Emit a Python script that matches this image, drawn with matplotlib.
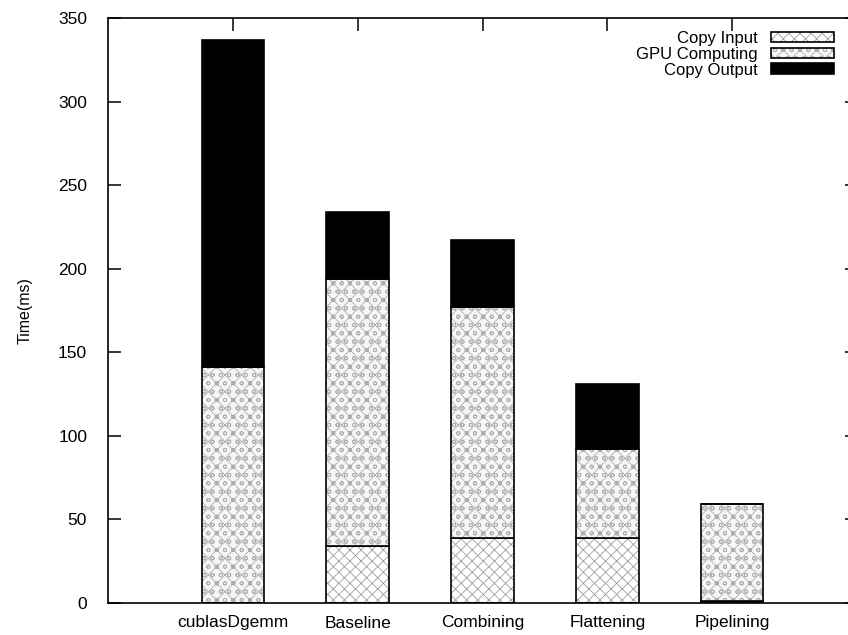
import numpy as np
import matplotlib
matplotlib.use("Agg")
import matplotlib.pyplot as plt

plt.rcParams['font.family'] = ['Liberation Sans', 'DejaVu Sans']
plt.rcParams['hatch.linewidth'] = 0.6

# --- data ---
categories = ['cublasDgemm', 'Baseline', 'Combining', 'Flattening', 'Pipelining']
copy_input = [0, 34, 39, 39, 1]
gpu_computing = [141, 160, 138, 53, 58]
copy_output = [196, 40, 40, 39, 0]

fig = plt.figure(figsize=(8.48, 6.35), dpi=100)
# right edge sits just past the picture (the original is cropped there)
ax = fig.add_axes([108 / 848, 32 / 635, (857 - 108) / 848, (603 - 18) / 635])

x = np.arange(1, len(categories) + 1)
w = 0.5
inp = np.array(copy_input)
gpu = np.array(gpu_computing)
out = np.array(copy_output)

b1 = ax.bar(x, inp, w, color='white', edgecolor='black', linewidth=1.2,
            hatch='xxx', label='Copy Input')
b2 = ax.bar(x, gpu, w, bottom=inp, color='#f6f6f6', edgecolor='black', linewidth=1.2,
            hatch='xxoo', label='GPU Computing')
ax.bar(x, out, w, bottom=inp + gpu, color='black', edgecolor='black', linewidth=1.2,
       label='Copy Output')

# light grey hatching
for p in b1:
    p._hatch_color = (0.62, 0.62, 0.62, 1.0)
for p in b2:
    p._hatch_color = (0.68, 0.68, 0.68, 1.0)

ax.set_xlim(0, 6)
ax.set_ylim(0, 350)
ax.set_yticks(range(0, 351, 50))
ax.set_xticks(x)
ax.set_xticklabels(categories)
ax.tick_params(axis='both', direction='in', length=9, width=1.1, labelsize=12.5,
               top=True, right=True, bottom=False)
ax.tick_params(axis='y', pad=15)
ax.tick_params(axis='x', pad=9)
for s in ax.spines.values():
    s.set_linewidth(1.2)

ax.set_ylabel('Time(ms)', fontsize=11.5, labelpad=18)

leg = ax.legend(loc='upper right', bbox_to_anchor=(834 / 848, 604 / 635),
                bbox_transform=fig.transFigure, frameon=False, markerfirst=False,
                fontsize=12, handlelength=3.8, handleheight=0.6,
                labelspacing=0.05, handletextpad=0.8, borderpad=0, borderaxespad=0)
for t in leg.get_texts():
    t.set_ha('right')
leg.legend_handles[0]._hatch_color = (0.62, 0.62, 0.62, 1.0)
leg.legend_handles[1]._hatch_color = (0.68, 0.68, 0.68, 1.0)

fig.savefig('out.png', dpi=100)
